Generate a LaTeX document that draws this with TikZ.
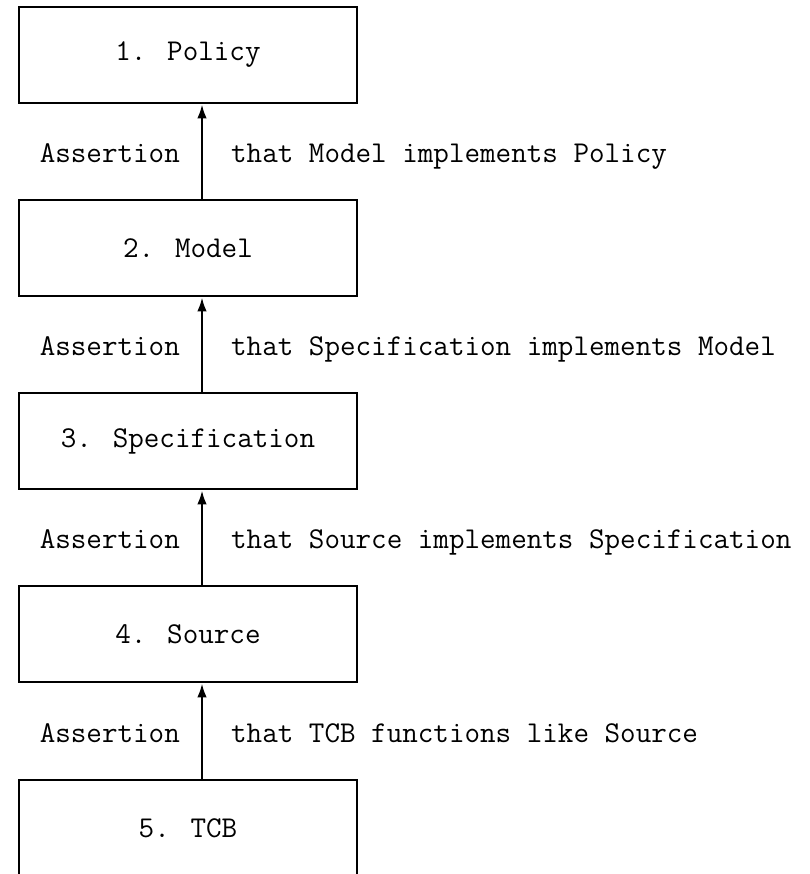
\documentclass[tikz,border=0pt]{standalone}
\usepackage{tikz}
\usetikzlibrary{arrows.meta}
\newcommand{\typeface}{\ttfamily\fontsize{17.2}{20}\selectfont}
\tikzset{level node/.style={rectangle, draw, line width=1.3pt,
    minimum width=6.76cm, minimum height=1.93cm, font=\typeface}}
\tikzset{assert edge/.style={draw, line width=1.3pt, -{Latex[length=0.28cm, width=0.19cm]}}}
\tikzset{claim label/.style={font=\typeface, inner sep=0pt, anchor=base east, xshift=-0.42cm, yshift=-0.22cm}}
\tikzset{goal label/.style={font=\typeface, inner sep=0pt, anchor=base west, xshift=0.56cm, yshift=-0.22cm}}

\begin{document}
\begin{tikzpicture}
      [x=0.02cm, y=-0.02cm]
      \useasboundingbox (0,0) rectangle (809,874);
      \clip (0,0) rectangle (809,874);

      \coordinate (spine) at (202, 0);

      \node [level node] (policy) at (188,  55) {1. Policy};
      \node [level node] (model)  at (188, 248) {2. Model};
      \node [level node] (spec)   at (188, 441) {3. Specification};
      \node [level node] (source) at (188, 634) {4. Source};
      \node [level node] (tcb)    at (188, 828) {5. TCB};

      \draw [assert edge] (model.north  -| spine) -- (policy.south -| spine)
        node [claim label, midway] {Assertion}
        node [goal label, midway]  {that Model implements Policy};
      \draw [assert edge] (spec.north   -| spine) -- (model.south  -| spine)
        node [claim label, midway] {Assertion}
        node [goal label, midway]  {that Specification implements Model};
      \draw [assert edge] (source.north -| spine) -- (spec.south   -| spine)
        node [claim label, midway] {Assertion}
        node [goal label, midway]  {that Source implements Specification};
      \draw [assert edge] (tcb.north    -| spine) -- (source.south -| spine)
        node [claim label, midway] {Assertion}
        node [goal label, midway]  {that TCB functions like Source};
\end{tikzpicture}
\end{document}
